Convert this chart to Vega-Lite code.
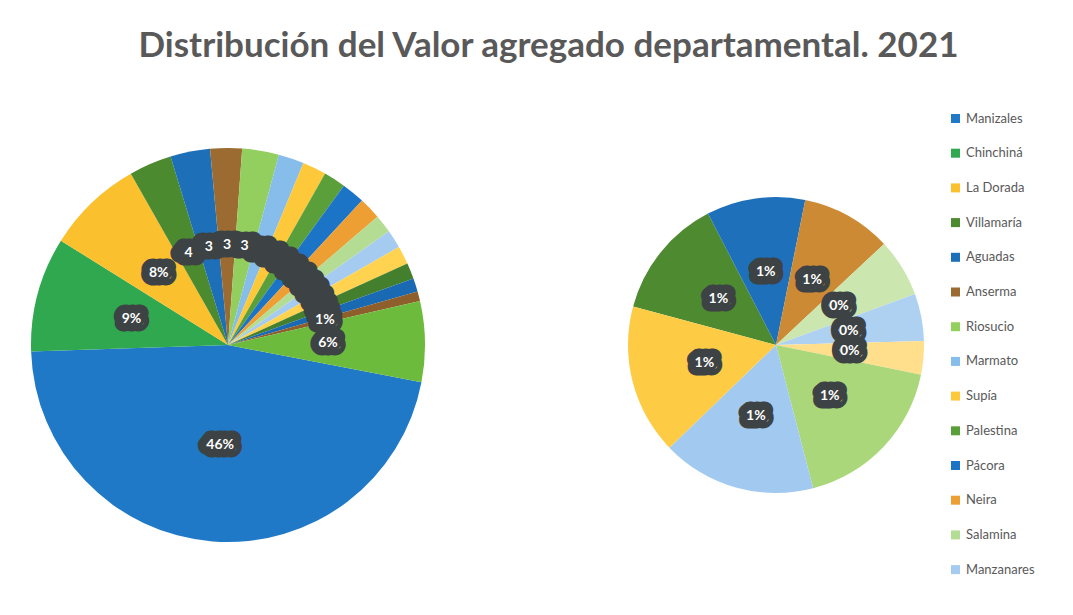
{
  "$schema": "https://vega.github.io/schema/vega-lite/v6.json",
  "background": "#ffffff",
  "padding": {"left": 28, "top": 29, "right": 0, "bottom": 0},
  "title": {"text": "Distribución del Valor agregado departamental. 2021", "font": "Lato", "fontSize": 35, "fontWeight": "bold", "color": "#595959", "anchor": "middle", "baseline": "bottom", "offset": 13, "dx": 17},
  "config": {"view": {"stroke": null}},
  "datasets": {
    "main": [
      {"idx": 1, "name": "Manizales", "v": 46.4, "lbl": "46%", "vis": "46%"},
      {"idx": 2, "name": "Chinchiná", "v": 9.4, "lbl": "9%", "vis": "9%"},
      {"idx": 3, "name": "La Dorada", "v": 7.9, "lbl": "8%", "vis": "8%"},
      {"idx": 4, "name": "Villamaría", "v": 3.5, "lbl": "4%", "vis": "4\u2003"},
      {"idx": 5, "name": "Aguadas", "v": 3.25, "lbl": "3%", "vis": "3\u2003"},
      {"idx": 6, "name": "Anserma", "v": 2.6, "lbl": "3%", "vis": "3\u2003"},
      {"idx": 7, "name": "Riosucio", "v": 3.0, "lbl": "3%", "vis": "3\u2003"},
      {"idx": 8, "name": "Marmato", "v": 2.1, "lbl": "2%", "vis": ""},
      {"idx": 9, "name": "Supía", "v": 1.95, "lbl": "2%", "vis": ""},
      {"idx": 10, "name": "Palestina", "v": 1.8, "lbl": "2%", "vis": ""},
      {"idx": 11, "name": "Pácora", "v": 1.9, "lbl": "2%", "vis": ""},
      {"idx": 12, "name": "Neira", "v": 1.8, "lbl": "2%", "vis": ""},
      {"idx": 13, "name": "Salamina", "v": 1.5, "lbl": "2%", "vis": ""},
      {"idx": 14, "name": "Manzanares", "v": 1.5, "lbl": "2%", "vis": ""},
      {"idx": 15, "name": "Pensilvania", "v": 1.5, "lbl": "1%", "vis": ""},
      {"idx": 16, "name": "Risaralda", "v": 1.3, "lbl": "1%", "vis": ""},
      {"idx": 17, "name": "Viterbo", "v": 1.1, "lbl": "1%", "vis": ""},
      {"idx": 18, "name": "Samaná", "v": 0.8, "lbl": "1%", "vis": "1%"},
      {"idx": 19, "name": "Otros", "v": 6.6, "lbl": "6%", "vis": "6%"}
    ],
    "detail": [
      {"idx": 1, "name": "Aranzazu", "v": 0.87, "lbl": "1%"},
      {"idx": 2, "name": "Belalcázar", "v": 0.71, "lbl": "1%"},
      {"idx": 3, "name": "Filadelfia", "v": 0.65, "lbl": "1%"},
      {"idx": 4, "name": "La Merced", "v": 0.42, "lbl": "0%"},
      {"idx": 5, "name": "Marquetalia", "v": 0.34, "lbl": "0%"},
      {"idx": 6, "name": "Marulanda", "v": 0.24, "lbl": "0%"},
      {"idx": 7, "name": "Norcasia", "v": 1.17, "lbl": "1%"},
      {"idx": 8, "name": "San José", "v": 1.11, "lbl": "1%"},
      {"idx": 9, "name": "Victoria", "v": 1.08, "lbl": "1%"}
    ]
  },
  "spacing": 198,
  "resolve": {"scale": {"color": "independent", "theta": "independent"}, "legend": {"color": "independent"}},
  "hconcat": [
    {
      "width": 400,
      "height": 400,
      "data": {"name": "main"},
      "encoding": {
        "theta": {"field": "v", "type": "quantitative", "stack": true, "scale": {"range": [1.761, 8.044]}},
        "order": {"field": "idx", "type": "quantitative"}
      },
      "layer": [
        {
          "mark": {"type": "arc", "outerRadius": 197},
          "encoding": {
            "color": {
              "field": "name", "type": "nominal", "legend": null,
              "scale": {
                "domain": ["Manizales", "Chinchiná", "La Dorada", "Villamaría", "Aguadas", "Anserma", "Riosucio", "Marmato", "Supía", "Palestina", "Pácora", "Neira", "Salamina", "Manzanares", "Pensilvania", "Risaralda", "Viterbo", "Samaná", "Otros", "Aranzazu", "Belalcázar", "Filadelfia", "La Merced", "Marquetalia", "Marulanda", "Norcasia", "San José", "Victoria"],
                "range": ["#2079C7", "#2FA84F", "#FBC02D", "#4C8A2F", "#1D6FB8", "#9C6B31", "#93CF5E", "#86BDEB", "#FDC93A", "#5B9F3A", "#1C74C6", "#EE9F33", "#B5DC93", "#A5CCF0", "#FFD24F", "#437F2C", "#1A69B3", "#8E5E2B", "#6DBB3C", "#4D8A30", "#1E70BA", "#CD8A35", "#CBE6AE", "#AED1F2", "#FFDF8C", "#AAD77A", "#A2CAF0", "#FDCB44"]
              }
            }
          }
        },
        {
          "mark": {"type": "text", "radius": 100, "font": "Lato", "fontSize": 14, "fontWeight": "bold", "fill": "#3D4244", "stroke": "#3D4244", "strokeWidth": 17, "strokeJoin": "round"},
          "encoding": {"text": {"field": "lbl", "type": "nominal"}}
        },
        {
          "mark": {"type": "text", "radius": 100, "font": "Lato", "fontSize": 14, "fontWeight": "bold", "fill": "#ffffff"},
          "encoding": {"text": {"field": "vis", "type": "nominal"}}
        }
      ]
    },
    {
      "width": 300,
      "height": 400,
      "data": {"name": "detail"},
      "encoding": {
        "theta": {"field": "v", "type": "quantitative", "stack": true, "scale": {"range": [4.976, 11.259]}},
        "order": {"field": "idx", "type": "quantitative"}
      },
      "layer": [
        {
          "mark": {"type": "arc", "outerRadius": 148},
          "encoding": {
            "color": {
              "field": "name", "type": "nominal",
              "scale": {
                "domain": ["Manizales", "Chinchiná", "La Dorada", "Villamaría", "Aguadas", "Anserma", "Riosucio", "Marmato", "Supía", "Palestina", "Pácora", "Neira", "Salamina", "Manzanares", "Pensilvania", "Risaralda", "Viterbo", "Samaná", "Otros", "Aranzazu", "Belalcázar", "Filadelfia", "La Merced", "Marquetalia", "Marulanda", "Norcasia", "San José", "Victoria"],
                "range": ["#2079C7", "#2FA84F", "#FBC02D", "#4C8A2F", "#1D6FB8", "#9C6B31", "#93CF5E", "#86BDEB", "#FDC93A", "#5B9F3A", "#1C74C6", "#EE9F33", "#B5DC93", "#A5CCF0", "#FFD24F", "#437F2C", "#1A69B3", "#8E5E2B", "#6DBB3C", "#4D8A30", "#1E70BA", "#CD8A35", "#CBE6AE", "#AED1F2", "#FFDF8C", "#AAD77A", "#A2CAF0", "#FDCB44"]
              },
              "legend": {
                "orient": "none", "legendX": 323, "legendY": -33, "title": null,
                "values": ["Manizales", "Chinchiná", "La Dorada", "Villamaría", "Aguadas", "Anserma", "Riosucio", "Marmato", "Supía", "Palestina", "Pácora", "Neira", "Salamina", "Manzanares"],
                "symbolType": "square", "symbolSize": 81, "symbolStrokeWidth": 0,
                "labelFont": "Lato", "labelFontSize": 13, "labelColor": "#595959",
                "rowPadding": 20.7, "labelOffset": 4, "padding": 0
              }
            }
          }
        },
        {
          "mark": {"type": "text", "radius": 74, "font": "Lato", "fontSize": 14, "fontWeight": "bold", "fill": "#3D4244", "stroke": "#3D4244", "strokeWidth": 17, "strokeJoin": "round"},
          "encoding": {"text": {"field": "lbl", "type": "nominal"}}
        },
        {
          "mark": {"type": "text", "radius": 74, "font": "Lato", "fontSize": 14, "fontWeight": "bold", "fill": "#ffffff"},
          "encoding": {"text": {"field": "lbl", "type": "nominal"}}
        }
      ]
    }
  ]
}
